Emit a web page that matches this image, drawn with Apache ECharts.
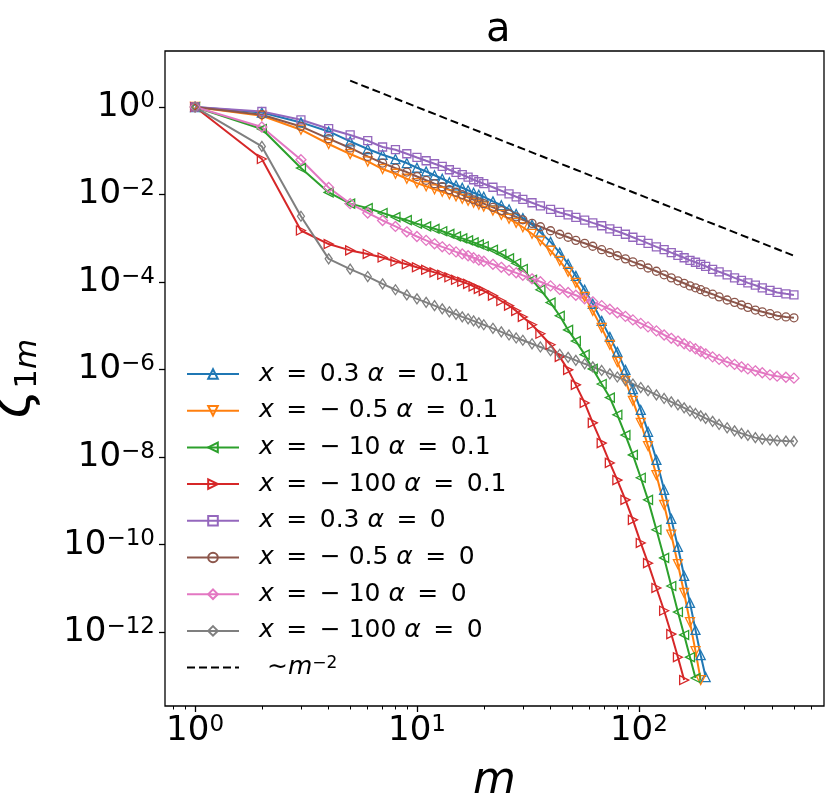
<!DOCTYPE html>
<html lang="en">
<head>
  <meta charset="UTF-8">
  <title>zeta_1m vs m</title>
  <script src="https://cdn.jsdelivr.net/npm/echarts@6.0.0/dist/echarts.min.js"></script>
  <style>
    html, body { margin: 0; padding: 0; background: #fff; }
    #chart { width: 836px; height: 809px; }
  </style>
</head>
<body>
  <div id="chart"></div>

  <script>
    // m values shared by all curves
    const mValues = [1, 2, 3, 4, 5, 6, 7, 8, 9, 10, 11, 12, 13, 14, 15, 16, 17, 18, 19, 20,
      22, 24, 26, 28, 30, 33, 36, 40, 44, 48, 52, 57, 62, 68, 74, 80, 87, 94,
      102, 110, 120, 130, 140, 150, 160, 170, 180, 190, 200,
      215, 230, 250, 270, 290, 310, 335, 360, 390, 420, 460, 500];

    // alpha = 0.1 (curves stop once they fall below ~1e-13)
    const zetaX03a01 = [1, 0.75, 0.445, 0.277, 0.164, 0.110, 0.0813, 0.0648, 0.0525, 0.041,
      0.0337, 0.0276, 0.0230, 0.0191, 0.0163, 0.0143, 0.0125, 0.0110, 9.9e-3, 8.9e-3,
      7.0e-3, 5.7e-3, 4.6e-3, 3.6e-3, 2.9e-3, 2.04e-3, 1.37e-3, 8.3e-4, 4.7e-4, 2.6e-4,
      1.39e-4, 6.7e-5, 3.2e-5, 1.3e-5, 5.6e-6, 2.55e-6, 9.9e-7, 3.6e-7,
      1.2e-7, 3.8e-8, 8.7e-9, 1.8e-9, 3.9e-10, 8.9e-11, 1.94e-11, 4.7e-12, 1.13e-12, 3.0e-13, 9.5e-14];
    const zetaXm05a01 = [1, 0.633, 0.303, 0.143, 0.0843, 0.0571, 0.0383, 0.0299, 0.0230, 0.0183,
      0.0155, 0.0132, 0.0116, 0.0102, 9.1e-3, 8.0e-3, 7.2e-3, 6.5e-3, 5.85e-3, 5.3e-3,
      4.3e-3, 3.45e-3, 2.8e-3, 2.26e-3, 1.79e-3, 1.27e-3, 8.8e-4, 5.2e-4, 3.07e-4, 1.72e-4,
      9.6e-5, 4.6e-5, 2.2e-5, 9.0e-6, 3.7e-6, 1.5e-6, 5.5e-7, 1.94e-7,
      6.1e-8, 1.8e-8, 3.9e-9, 8.1e-10, 1.7e-10, 3.6e-11, 7.9e-12, 1.7e-12, 3.7e-13, 8.1e-14];
    const zetaXm10a01 = [1, 0.314, 0.0403, 0.0112, 6.2e-3, 4.9e-3, 3.8e-3, 3.06e-3, 2.6e-3, 2.15e-3,
      1.88e-3, 1.65e-3, 1.45e-3, 1.27e-3, 1.11e-3, 1.0e-3, 9.0e-4, 8.1e-4, 7.3e-4, 6.6e-4,
      5.5e-4, 4.4e-4, 3.5e-4, 2.7e-4, 2.0e-4, 1.13e-4, 6.7e-5, 3.4e-5, 1.7e-5, 8.1e-6,
      4.5e-6, 2.2e-6, 1.04e-6, 4.7e-7, 2.3e-7, 9.3e-8, 3.2e-8, 1.13e-8,
      3.4e-9, 1.06e-9, 2.2e-10, 5.0e-11, 1.14e-11, 2.9e-12, 8.7e-13, 2.7e-13, 9.0e-14];
    const zetaXm100a01 = [1, 0.0648, 1.51e-3, 7.4e-4, 5.3e-4, 4.4e-4, 3.65e-4, 2.96e-4, 2.55e-4, 2.18e-4,
      1.91e-4, 1.67e-4, 1.47e-4, 1.29e-4, 1.13e-4, 1.02e-4, 9.1e-5, 8.0e-5, 7.0e-5, 6.3e-5,
      4.9e-5, 3.7e-5, 2.9e-5, 2.2e-5, 1.6e-5, 1.06e-5, 6.6e-6, 3.7e-6, 1.96e-6, 9.9e-7,
      4.5e-7, 1.74e-7, 6.1e-8, 2.1e-8, 7.4e-9, 3.0e-9, 1.06e-9, 3.7e-10,
      1.1e-10, 3.8e-11, 1.03e-11, 3.1e-12, 9.1e-13, 2.7e-13, 8.1e-14];

    // alpha = 0
    const zetaX03a0 = [1, 0.79, 0.51, 0.32, 0.23, 0.17, 0.122, 0.106, 0.0857, 0.0705,
      0.0592, 0.0506, 0.0439, 0.0369, 0.0320, 0.0284, 0.0249, 0.0218, 0.0196, 0.0177,
      0.0147, 0.0122, 0.0104, 8.9e-3, 7.8e-3, 6.5e-3, 5.5e-3, 4.6e-3, 3.9e-3, 3.45e-3,
      3.0e-3, 2.6e-3, 2.26e-3, 1.94e-3, 1.65e-3, 1.45e-3, 1.24e-3, 1.06e-3,
      9.0e-4, 7.7e-4, 6.4e-4, 5.5e-4, 4.7e-4, 4.1e-4, 3.6e-4, 3.15e-4, 2.84e-4, 2.55e-4, 2.3e-4,
      1.96e-4, 1.72e-4, 1.47e-4, 1.25e-4, 1.1e-4, 9.6e-5, 8.5e-5, 7.4e-5, 6.5e-5, 5.8e-5, 5.4e-5, 5.1e-5];
    const zetaXm05a0 = [1, 0.667, 0.360, 0.189, 0.116, 0.0743, 0.0525, 0.0403, 0.0327, 0.0259,
      0.0212, 0.0177, 0.0151, 0.0129, 0.0113, 9.9e-3, 8.7e-3, 7.6e-3, 6.8e-3, 6.2e-3,
      5.1e-3, 4.3e-3, 3.6e-3, 3.1e-3, 2.65e-3, 2.2e-3, 1.84e-3, 1.49e-3, 1.24e-3, 1.06e-3,
      9.0e-4, 7.7e-4, 6.6e-4, 5.5e-4, 4.7e-4, 4.0e-4, 3.4e-4, 2.9e-4,
      2.5e-4, 2.1e-4, 1.77e-4, 1.47e-4, 1.25e-4, 1.07e-4, 9.4e-5, 8.2e-5, 7.4e-5, 6.7e-5, 6.0e-5,
      5.3e-5, 4.6e-5, 3.9e-5, 3.45e-5, 3.0e-5, 2.65e-5, 2.3e-5, 2.1e-5, 1.9e-5, 1.7e-5, 1.6e-5, 1.53e-5];
    const zetaXm10a0 = [1, 0.349, 0.0624, 0.0145, 6.2e-3, 3.8e-3, 2.56e-3, 1.87e-3, 1.41e-3, 1.10e-3,
      9.0e-4, 7.5e-4, 6.4e-4, 5.6e-4, 4.9e-4, 4.4e-4, 4.0e-4, 3.6e-4, 3.2e-4, 3.0e-4,
      2.55e-4, 2.18e-4, 1.86e-4, 1.63e-4, 1.43e-4, 1.19e-4, 1.02e-4, 8.2e-5, 6.8e-5, 5.8e-5,
      5.0e-5, 4.15e-5, 3.55e-5, 2.9e-5, 2.4e-5, 2.0e-5, 1.65e-5, 1.37e-5,
      1.14e-5, 9.5e-6, 7.7e-6, 6.2e-6, 5.2e-6, 4.5e-6, 3.9e-6, 3.4e-6, 3.0e-6, 2.6e-6, 2.3e-6,
      1.96e-6, 1.72e-6, 1.5e-6, 1.32e-6, 1.16e-6, 1.04e-6, 9.4e-7, 8.5e-7, 7.6e-7, 7.1e-7, 6.7e-7, 6.4e-7];
    const zetaXm100a0 = [1, 0.126, 3.2e-3, 3.4e-4, 1.98e-4, 1.34e-4, 9.1e-5, 6.7e-5, 5.1e-5, 4.15e-5,
      3.45e-5, 2.9e-5, 2.45e-5, 2.1e-5, 1.84e-5, 1.61e-5, 1.45e-5, 1.3e-5, 1.17e-5, 1.06e-5,
      8.8e-6, 7.3e-6, 6.2e-6, 5.3e-6, 4.7e-6, 3.9e-6, 3.3e-6, 2.7e-6, 2.24e-6, 1.91e-6,
      1.63e-6, 1.36e-6, 1.16e-6, 9.6e-7, 8.0e-7, 6.8e-7, 5.7e-7, 4.7e-7,
      3.9e-7, 3.3e-7, 2.65e-7, 2.2e-7, 1.84e-7, 1.57e-7, 1.34e-7, 1.14e-7, 1.0e-7, 8.8e-8, 7.7e-8,
      6.6e-8, 5.6e-8, 4.7e-8, 4.0e-8, 3.5e-8, 3.15e-8, 2.8e-8, 2.6e-8, 2.5e-8, 2.4e-8, 2.33e-8, 2.3e-8];

    // ~ m^-2 guide line (two end points)
    const guideM = [5, 500];
    const guideZeta = [4, 4e-4];

    // tick values
    const xMajorTicks = [1, 10, 100];
    const xMinorTicks = [0.8, 0.9, 2, 3, 4, 5, 6, 7, 8, 9, 20, 30, 40, 50, 60, 70, 80, 90, 200, 300, 400, 500, 600];
    const yMajorTicks = [1e-12, 1e-10, 1e-8, 1e-6, 1e-4, 1e-2, 1];

    // series names and legend texts (en spaces around "=" like mathtext)
    const seriesNames = ['x=0.3 a=0.1', 'x=-0.5 a=0.1', 'x=-10 a=0.1', 'x=-100 a=0.1',
      'x=0.3 a=0', 'x=-0.5 a=0', 'x=-10 a=0', 'x=-100 a=0', 'm^-2'];
    const legendTexts = [
      '{i|x}\u2002=\u20020.3 {i|α}\u2002=\u20020.1',
      '{i|x}\u2002=\u2002− 0.5 {i|α}\u2002=\u20020.1',
      '{i|x}\u2002=\u2002− 10 {i|α}\u2002=\u20020.1',
      '{i|x}\u2002=\u2002− 100 {i|α}\u2002=\u20020.1',
      '{i|x}\u2002=\u20020.3 {i|α}\u2002=\u20020',
      '{i|x}\u2002=\u2002− 0.5 {i|α}\u2002=\u20020',
      '{i|x}\u2002=\u2002− 10 {i|α}\u2002=\u20020',
      '{i|x}\u2002=\u2002− 100 {i|α}\u2002=\u20020',
      ' ∼{i|m}{sup|−2}'
    ];

    // marker styles (matplotlib tab10 colours, hollow markers)
    const curveStyles = [
      { data: zetaX03a01,   color: '#1f77b4', symbol: 'triangle', size: 9,       rotate: 0 },
      { data: zetaXm05a01,  color: '#ff7f0e', symbol: 'triangle', size: 9,       rotate: 180 },
      { data: zetaXm10a01,  color: '#2ca02c', symbol: 'triangle', size: 9,       rotate: 90 },
      { data: zetaXm100a01, color: '#d62728', symbol: 'triangle', size: 9,       rotate: -90 },
      { data: zetaX03a0,    color: '#9467bd', symbol: 'rect',     size: 8,       rotate: 0 },
      { data: zetaXm05a0,   color: '#8c564b', symbol: 'circle',   size: 8,       rotate: 0 },
      { data: zetaXm10a0,   color: '#e377c2', symbol: 'diamond',  size: [10, 10], rotate: 0 },
      { data: zetaXm100a0,  color: '#7f7f7f', symbol: 'diamond',  size: [7, 10],  rotate: 0 }
    ];

    function supLabel(v) {
      const e = Math.round(Math.log10(v));
      return '10{sup|' + String(e).replace('-', '−') + '}';
    }

    const tickRich = {
      sup: { fontSize: 23, fontFamily: 'DejaVu Sans', color: '#000', verticalAlign: 'top', lineHeight: 22 }
    };

    const series = curveStyles.map(function (s, i) {
      return {
        name: seriesNames[i],
        type: 'line',
        data: s.data.map(function (v, k) { return [mValues[k], v]; }),
        symbol: s.symbol,
        symbolSize: s.size,
        symbolRotate: s.rotate,
        showAllSymbol: true,
        lineStyle: { color: s.color, width: 2 },
        itemStyle: { color: 'rgba(0,0,0,0)', borderColor: s.color, borderWidth: 1.3 },
        emphasis: { disabled: true }
      };
    });

    series.push({
      name: seriesNames[8],
      type: 'line',
      data: guideM.map(function (m, k) { return [m, guideZeta[k]]; }),
      symbol: 'none',
      lineStyle: { color: '#000', width: 2, type: [8, 4] },
      itemStyle: { color: 'rgba(0,0,0,0)' },
      emphasis: { disabled: true }
    });

    const chart = echarts.init(document.getElementById('chart'));

    const option = {
      animation: false,
      backgroundColor: '#fff',
      title: {
        text: 'a',
        left: 481,
        top: 6,
        textStyle: { fontSize: 40, fontWeight: 'normal', color: '#000', fontFamily: 'DejaVu Sans' }
      },
      grid: {
        left: 165, top: 51, right: 12, bottom: 103,
        show: true, borderColor: '#000', borderWidth: 1.3,
        outerBoundsMode: 'none'
      },
      legend: {
        orient: 'vertical',
        left: 186,
        top: 361,
        padding: 0,
        itemWidth: 52,
        itemHeight: 12,
        itemGap: 10.7,
        selectedMode: false,
        data: seriesNames,
        formatter: function (name) { return legendTexts[seriesNames.indexOf(name)]; },
        textStyle: {
          fontSize: 25, lineHeight: 26, color: '#000', fontFamily: 'DejaVu Sans',
          padding: [0, 0, 0, 15],
          rich: {
            i: { fontSize: 25, fontStyle: 'italic', fontFamily: 'DejaVu Sans', color: '#000' },
            sup: { fontSize: 17, fontFamily: 'DejaVu Sans', color: '#000', verticalAlign: 'top', lineHeight: 14 }
          }
        }
      },
      xAxis: [
        {
          type: 'log',
          logBase: 10,
          min: 0.732,
          max: 683,
          axisLine: { show: false },
          axisTick: { show: true, length: 6, customValues: xMajorTicks, lineStyle: { color: '#000', width: 1.3 } },
          axisLabel: {
            customValues: xMajorTicks, margin: 8, color: '#000', fontSize: 34, fontFamily: 'DejaVu Sans',
            formatter: supLabel, rich: tickRich
          },
          splitLine: { show: false },
          name: 'm',
          nameLocation: 'middle',
          nameGap: 54,
          nameTextStyle: { fontSize: 44, fontStyle: 'italic', fontFamily: 'DejaVu Sans', color: '#000' }
        },
        {
          // minor ticks
          type: 'log',
          logBase: 10,
          min: 0.732,
          max: 683,
          position: 'bottom',
          axisLine: { show: false },
          axisTick: { show: true, length: 3.5, customValues: xMinorTicks, lineStyle: { color: '#000', width: 1 } },
          axisLabel: { show: false },
          splitLine: { show: false }
        }
      ],
      yAxis: {
        type: 'log',
        logBase: 10,
        min: 2.07e-14,
        max: 19.05,
        axisLine: { show: false },
        axisTick: { show: true, length: 6, customValues: yMajorTicks, lineStyle: { color: '#000', width: 1.3 } },
        axisLabel: {
          customValues: yMajorTicks, margin: 10, color: '#000', fontSize: 34, fontFamily: 'DejaVu Sans',
          formatter: supLabel, rich: tickRich
        },
        splitLine: { show: false },
        name: '{z|ζ}{s|1}{t|m}',
        nameLocation: 'middle',
        nameRotate: 90,
        nameGap: 122,
        nameTextStyle: {
          color: '#000',
          rich: {
            z: { fontSize: 54, fontStyle: 'italic', fontFamily: 'DejaVu Sans', color: '#000', lineHeight: 56 },
            s: { fontSize: 31, fontFamily: 'DejaVu Sans', color: '#000', verticalAlign: 'bottom', lineHeight: 44 },
            t: { fontSize: 31, fontStyle: 'italic', fontFamily: 'DejaVu Sans', color: '#000', verticalAlign: 'bottom', lineHeight: 44 }
          }
        }
      },
      series: series
    };

    chart.setOption(option);

    window.addEventListener('resize', function () {
      chart.resize();
    });
  </script>
</body>
</html>
